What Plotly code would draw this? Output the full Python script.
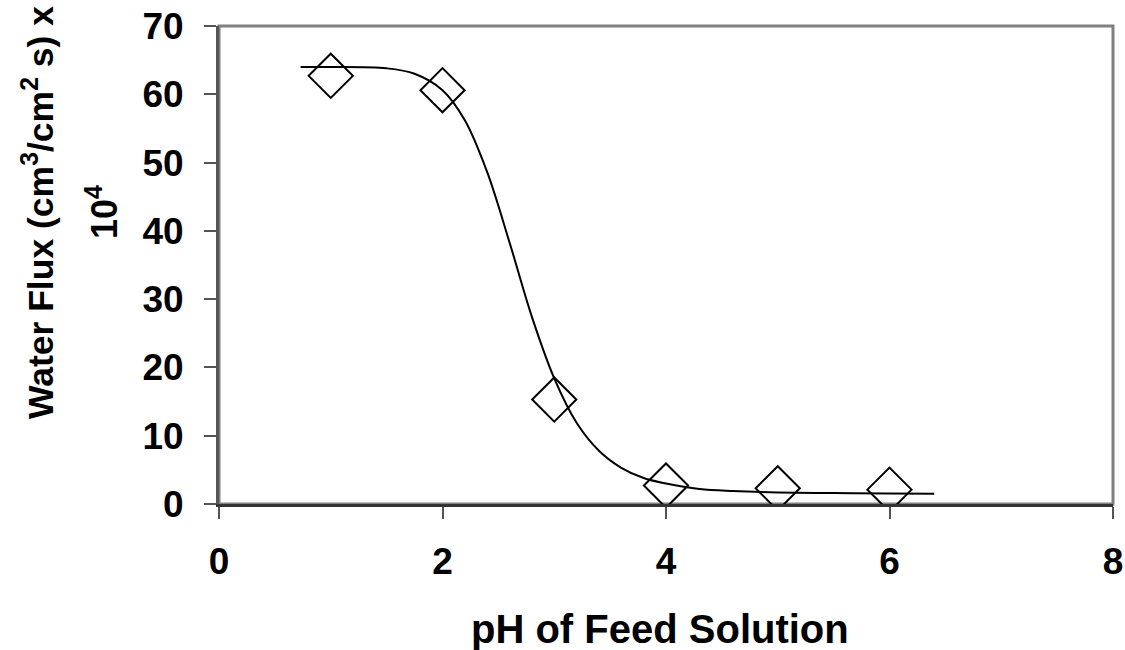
import plotly.graph_objects as go

# measured data points
ph_values = [1, 2, 3, 4, 5, 6]
flux_values = [62.7, 60.6, 15.3, 2.7, 2.3, 2.1]

# fitted curve
curve_x = [0.73, 1.0, 1.5, 1.75, 2.0, 2.2, 2.4, 2.6, 2.8, 3.0, 3.2, 3.4, 3.6, 3.8, 4.0, 4.3, 4.6, 5.0, 5.5, 6.0, 6.4]
curve_y = [64.0, 64.0, 63.8, 63.0, 60.6, 56.2, 48.6, 38.3, 27.4, 18.4, 11.9, 7.8, 5.3, 3.8, 3.0, 2.2, 1.9, 1.7, 1.6, 1.55, 1.5]

x_ticks = [0, 2, 4, 6, 8]
y_ticks = [0, 10, 20, 30, 40, 50, 60, 70]

FONT = "Liberation Sans, Arial, sans-serif"
L, R, T, B = 219, 1113, 26, 504
PW, PH = R - L, B - T

def px_x(p):
    return (p - L) / PW

def px_y(p):
    return (B - p) / PH

fig = go.Figure()
fig.add_trace(go.Scatter(x=curve_x, y=curve_y, mode="lines",
                         line=dict(color="black", width=2, shape="spline", smoothing=1.0),
                         showlegend=False, hoverinfo="skip"))
fig.add_trace(go.Scatter(x=ph_values, y=flux_values, mode="markers",
                         marker=dict(symbol="diamond-open", size=34, color="black",
                                     line=dict(width=2, color="black")),
                         showlegend=False))

fig.update_layout(
    width=1125, height=650,
    margin=dict(l=L, r=1125 - R, t=T, b=650 - B, autoexpand=False),
    paper_bgcolor="white", plot_bgcolor="white",
    font=dict(family=FONT, color="black"),
    xaxis=dict(range=[0, 8], tickvals=x_ticks, ticks="outside", ticklen=12,
               tickcolor="#555", tickwidth=2, showgrid=False, zeroline=False,
               showline=True, linecolor="#333", linewidth=3, automargin=False,
               tickfont=dict(size=37, family=FONT, weight="bold"),
               ticklabelstandoff=11),
    yaxis=dict(range=[0, 70], tickvals=y_ticks, ticks="outside", ticklen=12,
               tickcolor="#555", tickwidth=2, showgrid=False, zeroline=False,
               showline=True, linecolor="#555", linewidth=3, automargin=False,
               tickfont=dict(size=37, family=FONT, weight="bold"),
               ticklabelstandoff=13),
    shapes=[dict(type="rect", xref="paper", yref="paper", x0=0, y0=0, x1=1, y1=1,
                 line=dict(color="#808080", width=3), layer="below")],
    annotations=[
        dict(text="<b>Water Flux (cm<sup>3</sup>/cm<sup>2</sup> s) x</b>",
             xref="paper", yref="paper", x=px_x(38), y=px_y(213),
             xanchor="center", yanchor="middle", textangle=-90, showarrow=False,
             font=dict(size=35.5, family=FONT)),
        dict(text="<b>10<sup>4</sup></b>",
             xref="paper", yref="paper", x=px_x(102), y=px_y(212),
             xanchor="center", yanchor="middle", textangle=-90, showarrow=False,
             font=dict(size=36, family=FONT)),
        dict(text="<b>pH of Feed Solution</b>",
             xref="paper", yref="paper", x=px_x(660), y=px_y(629),
             xanchor="center", yanchor="middle", showarrow=False,
             font=dict(size=40, family=FONT)),
    ],
)

fig.write_html("out.html", config={"displayModeBar": False},
               post_script="document.body.style.margin='0';document.body.style.padding='0';")
